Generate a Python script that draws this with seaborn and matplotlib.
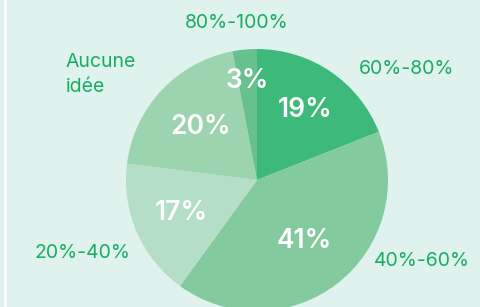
import numpy as np
import matplotlib
matplotlib.use("Agg")
import matplotlib.pyplot as plt
import seaborn as sns

# data: slices go clockwise from the top
categories = ["60%-80%", "40%-60%", "20%-40%", "Aucune\nidée", "80%-100%"]
shares = [19, 41, 17, 20, 3]
colors = ["#3dba7a", "#83cb9e", "#b4dec5", "#9dd4b0", "#66c18e"]

bg = "#dff2ed"
label_green = "#18ad63"

sns.set_theme(style="white")
plt.rcParams['font.family'] = ['Inter', 'DejaVu Sans']

fig = plt.figure(figsize=(4.81, 3.07), dpi=100, facecolor=bg)
ax = fig.add_axes([0, 0, 1, 1])
ax.set_facecolor(bg)

# pie centre / radius in pixel space (y measured from bottom)
cx, cy, r = 257, 127, 131
wedges, _, autotexts = ax.pie(
    shares, colors=colors, startangle=90, counterclock=False,
    center=(cx, cy), radius=r, autopct=lambda p: f"{p:.0f}%",
    pctdistance=0.62, frame=True,
    wedgeprops=dict(linewidth=0),
    textprops=dict(color="white", fontsize=19, fontweight="semibold"))
ax.set_xlim(0, 481)
ax.set_ylim(0, 307)
ax.set_aspect('equal')
ax.axis('off')

# small tweaks of inner labels distance
dists = [0.65, 0.59, 0.63, 0.59, 0.76]
angle = 90
for t, s, d in zip(autotexts, shares, dists):
    mid = np.deg2rad(angle - s * 3.6 / 2)
    t.set_position((cx + d * r * np.cos(mid), cy + d * r * np.sin(mid)))
    angle -= s * 3.6

# outer category labels
label_pos = [(407, 238, 'center'), (422, 46, 'center'), (82, 54, 'center'),
             (66, 233, 'left'), (237, 284, 'center')]
for name, (x, y, ha) in zip(categories, label_pos):
    ax.text(x, y, name, color=label_green, fontsize=14, ha=ha, va='center',
            linespacing=1.5)

# thin white rule on the left edge
ax.axvline(5, color="white", linewidth=2)

fig.savefig("out.png", dpi=100, facecolor=bg)
